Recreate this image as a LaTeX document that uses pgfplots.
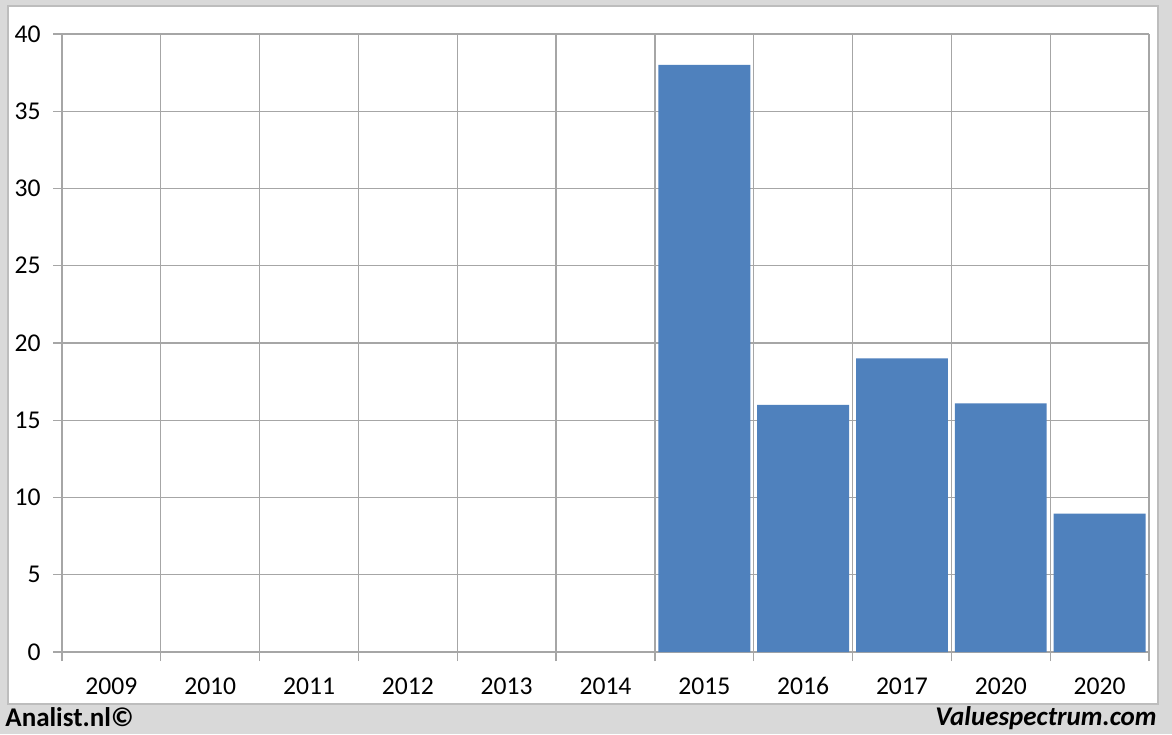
\documentclass[border=0pt]{standalone}
\usepackage{fontspec}
\setmainfont{Carlito}
\usepackage{pgfplots}
\pgfplotsset{compat=1.18}
\definecolor{bggray}{HTML}{D9D9D9}
\definecolor{panelborder}{HTML}{BDBDBD}
\definecolor{gridgray}{HTML}{A6A6A6}
\definecolor{barblue}{HTML}{4F81BD}
\begin{document}
\begin{tikzpicture}
\fill[bggray] (0,0) rectangle (586pt,367pt);
\draw[fill=white, draw=panelborder, line width=0.6pt] (4pt,15pt) rectangle (579pt,364pt);
\node[anchor=base west, inner sep=0, font=\fontsize{13.5pt}{14pt}\selectfont\bfseries] at (2.5pt,4pt) {Analist.nl©};
\node[anchor=base east, inner sep=0, font=\fontsize{13.5pt}{14pt}\selectfont\bfseries\itshape] at (578.5pt,4.5pt) {Valuespectrum.com};
\begin{axis}[
  at={(31pt,41pt)}, anchor=south west,
  scale only axis, width=543.5pt, height=309pt,
  xmin=0, xmax=11, ymin=0, ymax=40,
  axis line style={draw=none},
  xtick={0,...,11}, xticklabels={},
  extra x ticks={0.5,1.5,...,10.5},
  extra x tick labels={2009,2010,2011,2012,2013,2014,2015,2016,2017,2020,2020},
  extra x tick style={major tick length=0pt, grid=none,
     xticklabel style={anchor=north, inner sep=0pt, yshift=-12.5pt}},
  ytick={0,5,...,40},
  xmajorgrids, ymajorgrids,
  major grid style={gridgray, line width=0.6pt},
  tick style={gridgray, line width=0.6pt},
  tick align=outside, major tick length=4.5pt,
  xtick pos=bottom, ytick pos=left,
  yticklabel style={anchor=east, inner sep=0pt, xshift=-6pt},
  tick label style={font=\fontsize{12.8pt}{13pt}\selectfont},
  /pgf/number format/assume math mode=true,
]
\addplot[ybar, bar width=0.93, fill=barblue, draw=none] coordinates {
  (6.5,38) (7.5,16) (8.5,19) (9.5,16.1) (10.5,8.95)
};
\end{axis}
\end{tikzpicture}
\end{document}
